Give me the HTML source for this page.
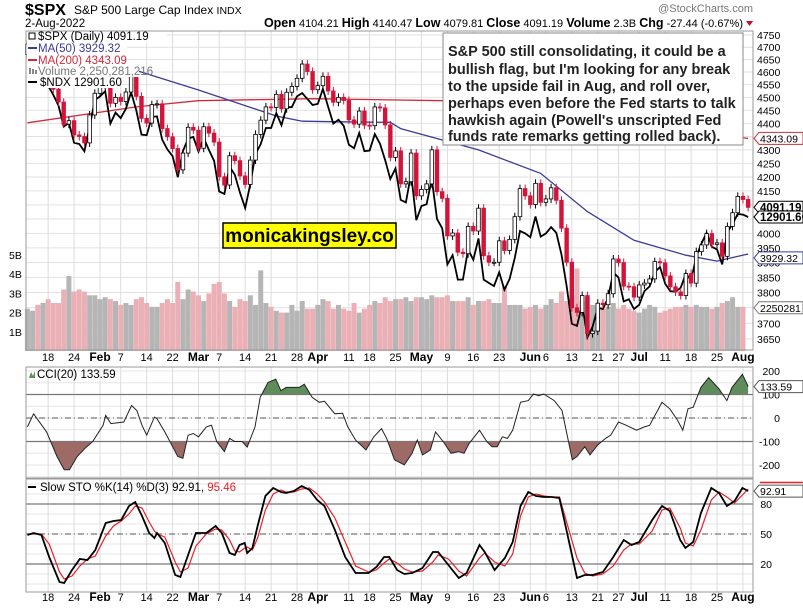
<!DOCTYPE html>
<html><head><meta charset="utf-8"><style>
body{margin:0;background:#fff;}
svg{display:block;font-family:"Liberation Sans",sans-serif;}
</style></head><body>
<svg id="chart" width="803" height="608" viewBox="0 0 803 608">
<rect x="0" y="0" width="803" height="608" fill="#fff"/>
<g>
<text x="25" y="15" font-size="16" font-weight="bold" fill="#000">$SPX</text>
<text x="74" y="14" font-size="12" fill="#000">S&amp;P 500 Large Cap Index <tspan font-size="10.5">INDX</tspan></text>
<text x="25" y="27" font-size="11.5" fill="#000">2-Aug-2022</text>
<text x="753" y="12" font-size="11" fill="#777" text-anchor="end">@StockCharts.com</text>
<text x="743" y="27" font-size="11" fill="#000" text-anchor="end"><tspan font-weight="bold" font-size="12.5">Open</tspan> 4104.21  <tspan font-weight="bold" font-size="12.5">High</tspan> 4140.47  <tspan font-weight="bold" font-size="12.5">Low</tspan> 4079.81  <tspan font-weight="bold" font-size="12.5">Close</tspan> 4091.19  <tspan font-weight="bold" font-size="12.5">Volume</tspan> 2.3B  <tspan font-weight="bold" font-size="12.5">Chg</tspan> -27.44 (-0.67%)</text>
<path d="M746 21 L753 21 L749.5 26 Z" fill="#c0102f"/>
</g>
<g id="grid"></g>
<g id="vol"></g>
<g id="lines"></g>
<g id="candles"></g>
<g id="ind"></g>
<g id="axes"></g>
<g font-size="11.5">
<rect x="27" y="32" width="140" height="11" fill="#fff"/><rect x="27" y="43" width="100" height="12" fill="#fff"/><rect x="27" y="55" width="100" height="11" fill="#fff"/><rect x="27" y="66" width="112" height="11" fill="#fff"/><rect x="27" y="77" width="86" height="11" fill="#fff"/>
<text x="38" y="40" fill="#000">$SPX (Daily) 4091.19</text>
<rect x="29" y="33" width="6" height="6" fill="none" stroke="#000" stroke-width="1"/>
<line x1="28" y1="48" x2="37" y2="48" stroke="#3b3b9b" stroke-width="2"/>
<text x="38" y="52" fill="#3b3b9b">MA(50) 3929.32</text>
<line x1="28" y1="60" x2="37" y2="60" stroke="#d02b3a" stroke-width="2"/>
<text x="38" y="64" fill="#d02b3a">MA(200) 4343.09</text>
<rect x="29" y="68" width="2" height="6" fill="#888"/><rect x="32" y="69" width="2" height="5" fill="#888"/><rect x="35" y="70" width="2" height="4" fill="#888"/>
<text x="38" y="75" fill="#777">Volume 2,250,281,216</text>
<line x1="28" y1="82" x2="37" y2="82" stroke="#000" stroke-width="2"/>
<text x="40" y="86" fill="#000">$NDX 12901.60</text>
</g>
<g>
<rect x="443" y="33" width="300" height="112" fill="#fff" stroke="#888" stroke-width="1"/>
<text font-size="14.5" font-weight="bold" fill="#222">
<tspan x="448" y="56">S&amp;P 500 still consolidating, it could be a</tspan>
<tspan x="448" y="74">bullish flag, but I'm looking for any break</tspan>
<tspan x="448" y="91">to the upside fail in Aug, and roll over,</tspan>
<tspan x="448" y="108">perhaps even before the Fed starts to talk</tspan>
<tspan x="448" y="125">hawkish again (Powell's unscripted Fed</tspan>
<tspan x="448" y="141">funds rate remarks getting rolled back).</tspan>
</text>
</g>
<g>
<rect x="223" y="223" width="173" height="25" fill="#ffff00" stroke="#000" stroke-width="1.5"/>
<text x="309.5" y="242" font-size="19" font-weight="bold" fill="#000" text-anchor="middle">monicakingsley.co</text>
</g>
</svg>
<script>
// ---- data ----
const closes=[4713,4726,4659,4662,4577,4532,4482,4397,4410,4356,4350,4326,4432,4516,
4546,4589,4477,4500,4484,4521,4587,4504,4419,4401,4472,4475,4380,4349,4305,4226,4288,4385,4374,
4306,4387,4363,4329,4201,4171,4278,4260,4204,4173,4262,4358,4412,4463,4461,4512,4456,4520,4543,4575,4632,4602,4530,
4546,4583,4525,4481,4500,4488,4413,4397,4447,4393,4391,4463,4459,4394,4272,4296,4175,4183,4288,4132,
4155,4175,4300,4147,4123,3991,4001,3935,3930,4024,4008,4088,3923,3901,3901,3974,3941,3979,4058,4158,4132,
4101,4177,4109,4121,4161,4116,4018,3901,3750,3735,3790,3667,3675,3765,3760,3796,3912,3900,3821,3819,3785,
3825,3831,3845,3903,3899,3855,3819,3802,3790,3863,3831,3937,3960,3999,3962,3967,3921,4024,4072,4130,
4119,4091];
const opens0=4670;
const ndx=[15800,15906,15500,15611,15200,15030,14830,14446,14510,14157,14134,14005,14440,14930,
15000,15100,14500,14700,14600,14770,15080,14740,14300,14290,14620,14630,14210,14040,13920,13560,14010,14230,14260,
14000,14240,14030,13840,13320,13280,13740,13600,13300,13046,13450,13960,14130,14420,14420,14690,14470,14800,14800,15000,15065,14950,14840,
14860,15140,14810,14500,14570,14460,14120,14060,14330,14010,14020,14310,14140,13850,13530,13710,13180,13140,13620,12850,
13080,13110,13530,12870,12720,12160,12300,11930,11930,12390,12230,12560,11930,11880,11835,12040,11780,11940,12260,12680,12640,
12580,12910,12590,12640,12740,12650,12310,11840,11290,11260,11570,11099,11250,11520,11500,11660,12040,11960,11610,11640,11500,
11560,11760,11830,12040,12120,11870,11760,11750,11810,12020,11920,12280,12480,12650,12430,12390,12160,12660,12790,12950,
12940,12901];
const volumes=[2.2,2.1,2.4,2.5,2.7,2.5,2.5,3.2,3.9,3.1,3.2,3.1,2.9,2.9,2.7,2.8,2.7,2.6,2.4,2.5,2.4,2.7,2.8,2.5,2.3,2.3,2.5,2.7,2.5,3.6,2.7,3.2,3.1,2.9,2.6,3.0,3.5,3.6,3.0,2.6,2.3,2.7,2.6,2.9,2.4,4.2,2.5,2.3,2.1,2.0,2.0,2.4,2.1,2.6,2.2,2.2,2.4,2.7,2.6,2.2,2.4,2.2,2.1,2.5,2.0,2.2,2.4,2.6,2.5,2.8,2.6,
2.7,2.7,2.8,2.6,2.8,2.8,2.7,2.9,2.8,2.8,2.9,2.6,2.6,2.6,2.8,2.4,2.6,2.6,2.7,2.5,2.5,3.4,2.4,2.4,2.4,2.2,2.3,2.4,2.2,2.4,2.7,2.5,3.1,2.6,2.9,4.3,2.6,2.8,2.4,2.2,2.2,2.3,2.5,2.2,2.4,2.2,2.1,2.0,2.2,2.4,2.3,2.0,2.1,2.2,2.3,2.3,2.4,2.3,2.4,2.3,2.3,2.2,2.3,2.5,2.6,2.8,2.3,2.3];
const ma50Day=[21,33,48,53,60,70,72,87,99,108,117,127,133,139];
const ma50Val=[4606,4529,4428,4408,4406,4404,4380,4300,4213,4076,3976,3925,3905,3929];
const ma200Day=[0,21,33,55,80,100,120,139];
const ma200Val=[4402,4463,4487,4495,4487,4439,4384,4343];
const cciDay=[0,1.2,3.7,5.7,7.1,8.1,9.6,11.1,12.6,14.6,15.1,16.1,18.6,20.1,21.1,22.1,23,24.5,25,26.5,29,30,31,32,33,34.5,35.5,36.5,38,39,40,41.4,42.4,43.9,44.9,46.4,47.9,48.9,49.9,52.4,53.4,54.9,56.3,57.3,59.3,60.8,61.8,63.3,65.3,66.8,68.3,69.3,70.8,72.7,74.2,75.2,76.2,77.7,78.7,80.2,81.7,83.2,84.2,85.2,87.2,88.6,89.6,90.6,91.6,92.6,93.6,95.1,96.6,97.6,98.6,99.6,101.6,103.1,105.1,106,107.5,108.5,110,111.5,112.5,114,115.5,117.5,119,120,122.4,123.9,125.4,126.4,127.4,128.4,129.9,131.4,133.4,134.9,135.9,137.9,139];
const cciVal=[-38,18,-59,-164,-220,-220,-164,-129,-100,-31,11,-24,-17,53,32,-31,-73,4,-3,-59,-164,-171,-73,-66,-80,-38,-31,-100,-143,-87,-100,-100,-124,-38,88,151,165,116,130,130,144,88,67,71,18,20,-38,-94,-136,-80,-45,-87,-178,-199,-150,-94,-157,-136,-59,-100,-150,-143,-150,-108,-52,-100,-122,-122,-80,-87,-52,67,74,102,95,102,74,32,-178,-164,-122,-157,-115,-87,-73,-17,-31,-52,-38,-31,67,39,-10,-52,39,46,130,172,123,74,130,186,134];
const stoDay=[0,1.2,2.7,4.2,6.2,7.1,8.6,10.1,11.6,13.1,15.1,16.6,18.1,19.6,20.8,22.1,23.5,24.5,25,26.5,28.5,29.5,31,32.5,34.5,36.3,37.5,39,40,40.9,41.9,42.4,43.4,44.4,45.9,47.4,48.9,49.9,51.4,52.9,54.4,55.9,57.3,59.3,61.3,63.3,65.8,67.3,68.8,69.8,71.3,72.7,74.2,76.2,78.2,79.2,81.2,83.2,84.7,87.2,88.2,90.1,92.1,93.6,95.1,96.6,98.1,99.6,101.1,102.6,106,107.5,109,111,113,115,116.5,118,120.5,122.4,123.9,125.9,126.9,128.4,129.9,131.9,133.4,134.9,136.4,137.9,139];
const stoK=[49,51,49,27,2,1,14,25,24,34,61,63,64,78,82,68,51,46,51,41,9,7,29,51,51,58,51,31,29,39,41,31,36,58,88,96,92,91,93,98,94,84,78,54,27,11,11,17,27,27,14,10,11,16,32,32,19,6,11,39,32,14,26,42,78,92,88,87,87,86,6,9,9,12,27,44,39,42,64,78,73,44,36,42,71,96,91,78,83,96,93];
const stoD=[50,50,50,40,12,5,8,18,25,28,48,58,63,70,78,76,62,53,50,47,22,12,16,38,50,55,54,44,33,32,36,37,34,46,74,90,94,92,92,95,96,90,82,66,42,18,12,14,21,25,21,15,12,13,22,29,25,13,8,26,31,22,18,30,68,87,90,88,87,87,26,11,8,10,18,34,40,40,53,74,76,56,41,38,54,84,92,87,81,89,95];
const tickDay=[4,9,14,18,23,28,33,37,42,47,52,56,62,66,71,76,81,86,91,97,100,105,110,114,118,123,128,133,138];
const tickLabel=["18","24","Feb","7","14","22","Mar","7","14","21","28","Apr","11","18","25","May","9","16","23","Jun","6","13","21","27","Jul","11","18","25","Aug"];
const priceTicks=[4750,4700,4650,4600,4550,4500,4450,4400,4350,4300,4250,4200,4150,4100,4050,4000,3950,3900,3850,3800,3750,3700,3650];
const volTicks=[1,2,3,4,5];
const cciTicks=[200,100,0,-100,-200];
const stoTicks=[80,50,20];

// ---- axes ----
const L=26,R=753;
const xD=d=>27.4+5.185*d;
const yP=v=>35+1154*Math.log(4750/v);
const yN=v=>217+800*Math.log(12901.6/v);
const yV=b=>351-19.2*b;
const yC=v=>418-v*0.235;
const yS=v=>584-v;
const NS="http://www.w3.org/2000/svg";
function mk(parent,tag,attrs){const e=document.createElementNS(NS,tag);for(const k in attrs)e.setAttribute(k,attrs[k]);parent.appendChild(e);return e;}
const G=id=>document.getElementById(id);
const grid=G('grid'),vol=G('vol'),lines=G('lines'),cand=G('candles'),ind=G('ind'),axes=G('axes');
const panels=[[31,350],[367,478],[479,592]];
priceTicks.forEach(v=>{const l=mk(grid,'line',{x1:L,x2:R,y1:yP(v),y2:yP(v),stroke:'#e2e2e2'});

});
for(let v=-250;v<=200;v+=50){const l=mk(grid,'line',{x1:L,x2:R,y1:yC(v),y2:yC(v),stroke:'#e6e6e6'});

}
for(let v=0;v<=100;v+=10){const l=mk(grid,'line',{x1:L,x2:R,y1:yS(v),y2:yS(v),stroke:'#e6e6e6'});

}
tickDay.forEach(d=>{panels.forEach(p=>{const l=mk(grid,'line',{x1:xD(d),x2:xD(d),y1:p[0],y2:p[1],stroke:'#dcdcdc'});

});});
volumes.forEach((b,i)=>{const up=i===0||closes[i]>=closes[i-1];
const r=mk(vol,'rect',{x:xD(i)-2.5,y:yV(b),width:5,height:351-yV(b),fill:up?'#b5b5b5':'#eab0b5'});

});
function poly(days,vals,fx,fy){return days.map((d,i)=>fx(d).toFixed(1)+','+fy(vals[i]).toFixed(1)).join(' ');}
const m2=mk(lines,'polyline',{points:poly(ma200Day,ma200Val,xD,yP),fill:'none',stroke:'#d02b3a','stroke-width':1.3});


const m5=mk(lines,'polyline',{points:poly(ma50Day,ma50Val,xD,yP),fill:'none',stroke:'#3b3b9b','stroke-width':1.3});


const nl=mk(lines,'polyline',{points:ndx.map((v,i)=>xD(i).toFixed(1)+','+yN(v).toFixed(1)).join(' '),fill:'none',stroke:'#000','stroke-width':1.8});


closes.forEach((c,i)=>{const o=i?closes[i-1]:opens0;const up=c>=o;const col=up?'#000':'#d3143a';
const top=yP(Math.max(o,c)),bot=yP(Math.min(o,c));
const w=mk(cand,'line',{x1:xD(i),x2:xD(i),y1:top-4,y2:bot+4,stroke:col,'stroke-width':1});


const r=mk(cand,'rect',{x:xD(i)-1.8,y:top,width:3.6,height:Math.max(1,bot-top),fill:up?'#fff':col,stroke:col,'stroke-width':0.8});

});
const defs=mk(ind,'defs',{});
const c1=mk(defs,'clipPath',{id:'above'});mk(c1,'rect',{x:L,y:367,width:R-L,height:yC(100)-367});
const c2=mk(defs,'clipPath',{id:'below'});mk(c2,'rect',{x:L,y:yC(-100),width:R-L,height:478-yC(-100)});
const cpts=poly(cciDay,cciVal,xD,yC);
const fa=mk(ind,'polygon',{points:xD(cciDay[0])+','+yC(100)+' '+cpts+' '+xD(cciDay[cciDay.length-1])+','+yC(100),fill:'#5e8c5a','clip-path':'url(#above)'});


const fb=mk(ind,'polygon',{points:xD(cciDay[0])+','+yC(-100)+' '+cpts+' '+xD(cciDay[cciDay.length-1])+','+yC(-100),fill:'#9e6a66','clip-path':'url(#below)'});


[[100,''],[0,'6,3,1,3'],[-100,'']].forEach(a=>{const l=mk(ind,'line',{x1:L,x2:R,y1:yC(a[0]),y2:yC(a[0]),stroke:'#777','stroke-width':1.3,'stroke-dasharray':a[1]});

});
const cl=mk(ind,'polyline',{points:cpts,fill:'none',stroke:'#222','stroke-width':1});


[[80,''],[50,'6,3,1,3'],[20,'']].forEach(a=>{const l=mk(ind,'line',{x1:L,x2:R,y1:yS(a[0]),y2:yS(a[0]),stroke:'#777','stroke-width':1.3,'stroke-dasharray':a[1]});

});
const dl=mk(ind,'polyline',{points:poly(stoDay.slice(0,stoD.length),stoD,xD,yS),fill:'none',stroke:'#e8202a','stroke-width':1.2});


const kl=mk(ind,'polyline',{points:poly(stoDay.slice(0,stoK.length),stoK,xD,yS),fill:'none',stroke:'#000','stroke-width':1.8});


panels.forEach(p=>{const r=mk(axes,'rect',{x:L,y:p[0],width:R-L,height:p[1]-p[0],fill:'none',stroke:'#999'});

});
function txt(x,y,s,attrs,name){const t=mk(axes,'text',Object.assign({x:x,y:y,'font-size':11,fill:'#000'},attrs||{}));t.textContent=s;

return t;}
priceTicks.forEach(v=>txt(757,yP(v)+4,String(v),{'font-size':10.5},'price-tick-label'));
volTicks.forEach(b=>txt(9,yV(b)+4,b+'B',{'font-size':10.5},'volume-tick-label'));
cciTicks.forEach(v=>txt(780,yC(v)+4,String(v),{'font-size':10.5,'text-anchor':'end'},'cci-tick-label'));
stoTicks.forEach(v=>txt(772,yS(v)+4,String(v),{'font-size':10.5,'text-anchor':'end'},'sto-tick-label'));
tickDay.forEach((d,i)=>{const bold=isNaN(+tickLabel[i]);
[361,601].forEach(y=>txt(xD(d),y,tickLabel[i],{'text-anchor':'middle','font-size':bold?12:11,'font-weight':bold?'bold':'normal'},'date-tick-label'));});
function tag(y,s,col,bold,name){const p=mk(axes,'path',{d:`M754 ${y} L759 ${y-6} L803 ${y-6} L803 ${y+6} L759 ${y+6} Z`,fill:'#fff',stroke:col,'stroke-width':1});


txt(760,y+4,s,{'font-size':bold?11.5:10.5,'font-weight':bold?'bold':'normal',fill:'#000'},name);}
tag(yP(4343.09),'4343.09','#d02b3a',false,'ma200-value-tag');
tag(yP(3929.32)+4,'3929.32','#3b3b9b',false,'ma50-value-tag');
tag(yV(2.25),'2250281','#777',false,'volume-value-tag');
tag(yP(4091.19),'4091.19','#000',true,'price-value-tag');
tag(yN(12901.6),'12901.60','#000',true,'ndx-value-tag');
tag(yC(133.59),'133.59','#555',false,'cci-value-tag');
tag(yS(92.91),'92.91','#555',false,'sto-value-tag');
const ml=mk(axes,'line',{x1:760,x2:803,y1:yS(95.46)-6,y2:yS(95.46)-6,stroke:'#e8202a','stroke-width':1.5});


const cg=mk(axes,'path',{d:'M29 378 L31 372 L33 376 L35 371 L35 378 Z',fill:'#5e8c5a'});


txt(37,378,'CCI(20) 133.59',{'font-size':11.5},'cci-legend');
const sl=mk(axes,'line',{x1:28,x2:36,y1:487,y2:487,stroke:'#000','stroke-width':2});


const st=txt(40,491,'Slow STO %K(14) %D(3) 92.91, ',{'font-size':11.5},'sto-legend');
const ts=document.createElementNS(NS,'tspan');ts.setAttribute('fill','#e8202a');ts.textContent='95.46';st.appendChild(ts);
</script>
</body></html>
